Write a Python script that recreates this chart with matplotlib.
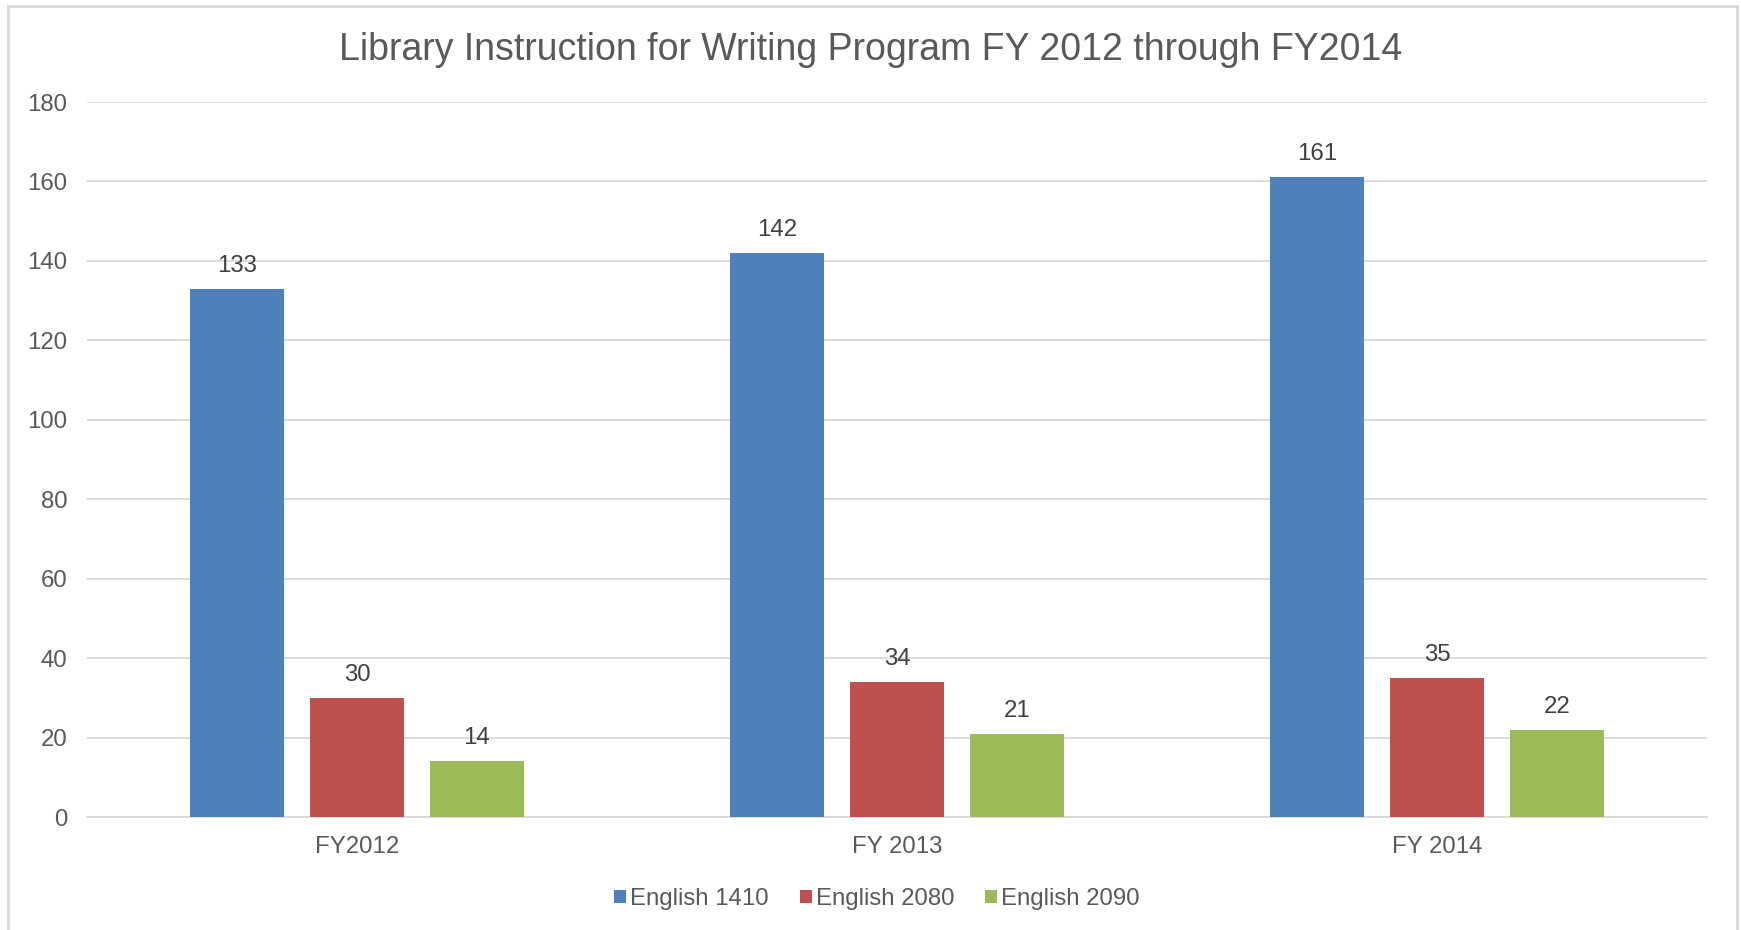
import numpy as np
import matplotlib
matplotlib.use("Agg")
import matplotlib.pyplot as plt
from matplotlib.patches import Rectangle

plt.rcParams['font.family'] = ['Liberation Sans', 'DejaVu Sans']

# data
years = ["FY2012", "FY 2013", "FY 2014"]
series = ["English 1410", "English 2080", "English 2090"]
eng1410 = [133, 142, 161]
eng2080 = [30, 34, 35]
eng2090 = [14, 21, 22]
colors = ["#4F81BD", "#C0504D", "#9BBB59"]

W, H = 1741, 930
fig = plt.figure(figsize=(W / 100, H / 100), dpi=100)

# axes placement in pixels (left, right, bottom=0 line, top=180 line)
x0, x1, y0, y1 = 87, 1707, 817, 102
ax = fig.add_axes([x0 / W, 1 - y0 / H, (x1 - x0) / W, (y0 - y1) / H])

# chart border
fig.patches.append(Rectangle((8 / W, -0.1), (1737 - 8) / W, 1.1 - 6 / H,
                             transform=fig.transFigure, fill=False,
                             edgecolor="#D9D9D9", linewidth=2))

FS = 17.3
x = np.arange(len(years))
width = 0.174
step = 0.222
for i, vals in enumerate([eng1410, eng2080, eng2090]):
    bars = ax.bar(x + (i - 1) * step, vals, width, color=colors[i], label=series[i], zorder=3)
    for b, v in zip(bars, vals):
        ax.annotate(str(v), (b.get_x() + b.get_width() / 2, v), xytext=(0, 23),
                    textcoords="offset pixels", ha="center", va="center",
                    fontsize=FS, color="#404040")

ax.set_xlim(-0.5, 2.5)
ax.set_ylim(0, 180)
ax.set_yticks(range(0, 181, 20))
ax.set_xticks(x)
ax.set_xticklabels(years)
ax.grid(axis="y", color="#D9D9D9", linewidth=1.3, zorder=0)
for s in ["top", "right", "left"]:
    ax.spines[s].set_visible(False)
ax.spines["bottom"].set_color("#D9D9D9")
ax.spines["bottom"].set_linewidth(1.3)
ax.tick_params(axis="both", length=0, labelsize=FS, labelcolor="#595959")
ax.tick_params(axis="y", pad=14)
ax.tick_params(axis="x", pad=14)

fig.text(0.5, 1 - 50 / H, "Library Instruction for Writing Program FY 2012 through FY2014",
         ha="center", va="center", fontsize=27, color="#595959")

fig.legend(loc="center", bbox_to_anchor=(877 / W, 1 - 899 / H), ncol=3,
           frameon=False, fontsize=FS, labelcolor="#595959", handlelength=0.5,
           handleheight=0.5, handletextpad=0.15, columnspacing=1.3)

fig.savefig("out.png", dpi=100)
